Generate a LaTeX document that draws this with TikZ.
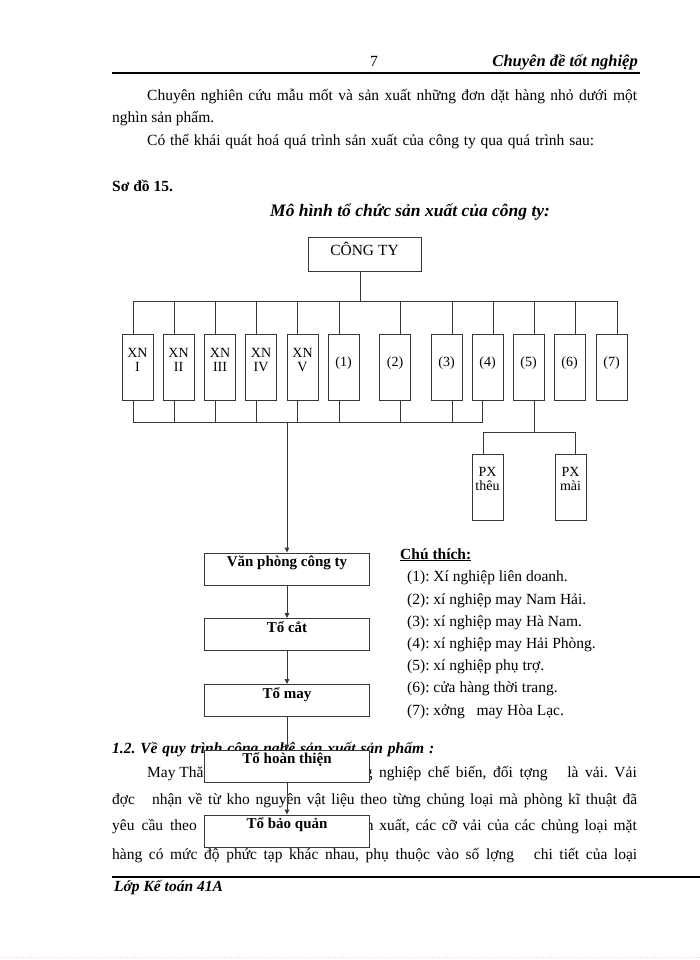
\documentclass[tikz,border=0pt]{standalone}
\usepackage{fontspec}
\setmainfont{Liberation Serif}
\usetikzlibrary{arrows.meta,calc}
\newcommand\myfs[1]{\fontsize{#1}{#1}\selectfont}
\frenchspacing
\begin{document}
\begin{tikzpicture}[x=1pt,y=-1pt,
  ln/.style={draw=black!78, line width=0.9pt},
  arr/.style={ln, -{Triangle[length=5pt,width=4.5pt]}},
  col/.style={draw=black!78, line width=0.9pt, fill=white, minimum width=31pt, minimum height=66pt, inner sep=0pt},
  flow/.style={draw=black!78, line width=0.9pt, fill=white, minimum width=165pt, minimum height=32pt, inner sep=0pt},
  colt2/.style={align=center, font=\myfs{14}, inner sep=0pt, yshift=7pt},
  colt1/.style={font=\myfs{14}, inner sep=0pt, yshift=4pt},
  flowt/.style={anchor=base, font=\bfseries\myfs{15}, inner sep=0pt, yshift=-14pt},
  txt/.style={anchor=base west, inner sep=0pt, font=\myfs{15.5}},
  txte/.style={anchor=base east, inner sep=0pt, font=\myfs{15.5}},
]
\fill[white] (0,0) rectangle (700,960);
\useasboundingbox (0,0) rectangle (700,960);

% header
\node[anchor=base, inner sep=0pt, font=\myfs{15.5}] (pg) at (374,67) {7};
\node[txte, font=\bfseries\itshape\myfs{16.5}] (hd) at (638,67) {Chuyên đề tốt nghiệp};
\draw[line width=1.5pt] (112,73) coordinate (hrA) -- (640,73) coordinate (hrB);

% top paragraph
\node[txt] (p1) at (147,101) {\makebox[490pt][s]{Chuyên nghiên cứu mẫu mốt và sản xuất những đơn dặt hàng nhỏ dưới một}};
\node[txt] (p2) at (112,123) {nghìn sản phẩm.};
\node[txt] (p3) at (147,146) {\makebox[447pt][s]{Có thể khái quát hoá quá trình sản xuất của công ty qua quá trình sau:}};

\node[txt, font=\bfseries\myfs{15.5}] (so) at (112,192) {Sơ đồ 15.};
\node[txt, font=\bfseries\itshape\myfs{17.5}] (ti) at (270,216) {Mô hình tổ chức sản xuất của công ty:};

% company
\node[draw=black!78, line width=0.9pt, fill=white, minimum width=113pt, minimum height=34pt, inner sep=0pt,
  label={[colt1, font=\myfs{15.5}, yshift=1pt]center:CÔNG TY}] (cty) at (364.5,254) {};

% column boxes
\node[col, label={[colt2]center:{XN\\I}}] (xn1) at (137.5,367) {};
\node[col, label={[colt2]center:{XN\\II}}] (xn2) at (178.5,367) {};
\node[col, label={[colt2]center:{XN\\III}}] (xn3) at (220,367) {};
\node[col, label={[colt2]center:{XN\\IV}}] (xn4) at (261,367) {};
\node[col, label={[colt2]center:{XN\\V}}] (xn5) at (302.5,367) {};
\node[col, label={[colt1]center:(1)}] (n1) at (343.5,367) {};
\node[col, label={[colt1]center:(2)}] (n2) at (395,367) {};
\node[col, label={[colt1]center:(3)}] (n3) at (446.5,367) {};
\node[col, label={[colt1]center:(4)}] (n4) at (487.5,367) {};
\node[col, label={[colt1]center:(5)}] (n5) at (528.5,367) {};
\node[col, label={[colt1]center:(6)}] (n6) at (569.5,367) {};
\node[col, label={[colt1]center:(7)}] (n7) at (611.5,367) {};

% PX boxes
\node[col, label={[colt2, yshift=1pt]center:{PX\\thêu}}] (pxt) at (487.5,487) {};
\node[col, label={[colt2, yshift=1pt]center:{PX\\mài}}] (pxm) at (570.5,487) {};

% top bus
\draw[ln] ([xshift=-4.5pt]cty.south) -- ++(0,31);
\draw[ln] ([xshift=-4.5pt]xn1.north) -- ++(0,-32) -| ([xshift=5.5pt]n7.north);
\foreach \n/\o in {xn2/-4.5,xn3/-5,xn4/-5,xn5/-5.5,n1/-4.5,n2/5,n3/5.5,n4/5.5,n5/5.5,n6/5.5}
  \draw[ln] ([xshift=\o pt]\n.north) -- ++(0,-32);
% bottom bus
\draw[ln] ([xshift=-4.5pt]xn1.south) -- ++(0,22) -| ([xshift=-5.5pt]n4.south);
\foreach \n/\o in {xn2/-4.5,xn3/-5,xn4/-5,xn5/-5.5,n1/-4.5,n2/5,n3/5.5}
  \draw[ln] ([xshift=\o pt]\n.south) -- ++(0,22);
% (5) to PX
\draw[ln] ([xshift=5.5pt]n5.south) -- ++(0,33);
\draw[ln] ([xshift=-4.5pt]pxt.north) -- ++(0,-21) -| ([xshift=4.5pt]pxm.north);

% legend
\node[txt] (lg) at (400,559) {\textbf{\underline{Chú thích:}}};
\node[txt] (l1) at (407,581) {(1): Xí nghiệp liên doanh.};
\node[txt] (l2) at (407,604) {(2): xí nghiệp may Nam Hải.};
\node[txt] (l3) at (407,626) {(3): xí nghiệp may Hà Nam.};
\node[txt] (l4) at (407,648) {(4): xí nghiệp may Hải Phòng.};
\node[txt] (l5) at (407,670) {(5): xí nghiệp phụ trợ.};
\node[txt] (l6) at (407,692) {(6): cửa hàng thời trang.};
\node[txt] (l7) at (407,715) {(7): xởng\ \ \ may Hòa Lạc.};

% lower body text (partly under boxes)
\node[txt, font=\bfseries\itshape\myfs{15.5}] (h12) at (112,753) {\makebox[322pt][s]{1.2. Về quy trình công nghệ sản xuất sản phẩm :}};
\node[txt] (b1a) at (147,777) {May Thă};
\node[txte] (b1b) at (637,777) {\makebox[272pt][s]{g nghiệp chế biến, đối tợng\ \ \ là vải. Vải}};
\node[txt] (b2) at (112,804) {\makebox[525pt][s]{đợc\ \ \ nhận về từ kho nguyên vật liệu theo từng chủng loại mà phòng kĩ thuật đã}};
\node[txt] (b3a) at (112,830) {\makebox[96pt][s]{yêu cầu theo t}};
\node[txte] (b3b) at (637,830) {\makebox[271pt][s]{n xuất, các cỡ vải của các chủng loại mặt}};
\node[txt] (b4) at (112,859) {\makebox[525pt][s]{hàng có mức độ phức tạp khác nhau, phụ thuộc vào số lợng\ \ \ chi tiết của loại}};

% flow chain
\node[flow, label={[flowt]north:Văn phòng công ty}] (vp) at (287,569) {};
\node[flow, label={[flowt]north:Tổ cắt}] (tc) at (287,634.5) {};
\node[flow, label={[flowt]north:Tổ may}] (tm) at (287,700.5) {};
\node[flow, label={[flowt]north:Tổ hoàn thiện}] (tht) at (287,766) {};
\node[flow, label={[flowt]north:Tổ bảo quản}] (tbq) at (287,831) {};
\coordinate (drop) at (287,422);
\draw[arr] (drop) -- (vp.north);
\draw[arr] (vp) -- (tc);
\draw[arr] (tc) -- (tm);
\draw[arr] (tm) -- (tht);
\draw[arr] (tht) -- (tbq);

% footer
\draw[line width=1.6pt] (112,877) coordinate (frA) -- (700,877) coordinate (frB);
\node[txt, font=\bfseries\itshape\myfs{15.5}] (ft) at (114,891) {Lớp Kế toán 41A};
\draw[red!20, dotted, line width=0.6pt] (0,957) coordinate (dA) -- (700,957) coordinate (dB);
\end{tikzpicture}
\end{document}
